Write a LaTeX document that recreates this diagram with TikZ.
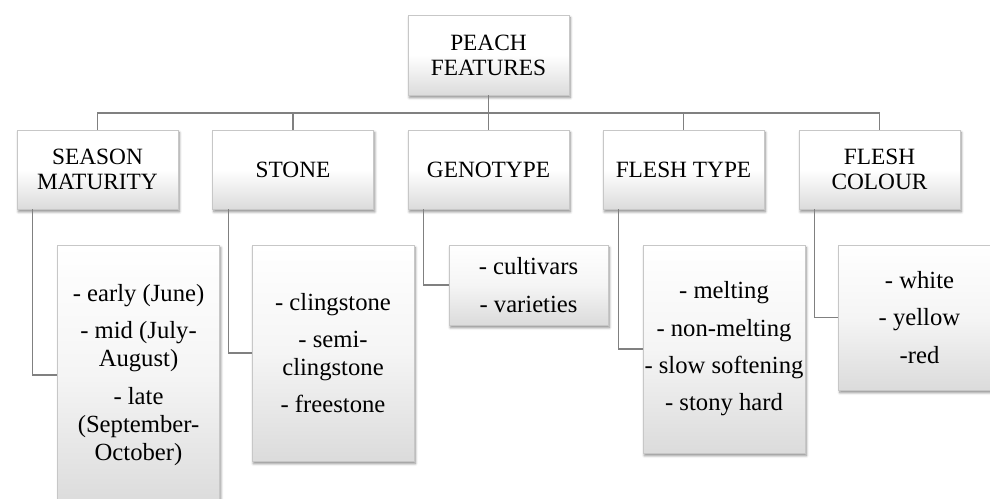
\documentclass[tikz,border=0pt]{standalone}
\usepackage{fontspec}
\setmainfont{Liberation Serif}
\usetikzlibrary{shadows.blur}
\tikzset{
  box/.style={draw=black!22, line width=0.4pt, top color=white, bottom color=black!14,
    blur shadow={shadow xshift=1pt, shadow yshift=-2pt, shadow blur steps=6, shadow opacity=45},
    inner sep=0pt, align=center, minimum width=120.75pt},
  head/.style={box, middle color=white, minimum height=59.5pt, font=\fontsize{17.5}{18.75}\selectfont},
  item/.style={box, middle color=black!4, minimum width=121.5pt, font=\fontsize{18.5}{21}\selectfont},
  link/.style={draw=black!50, line width=1pt}
}
\begin{document}
\begin{tikzpicture}[x=0.75pt,y=-0.75pt]
    \useasboundingbox (0,0) rectangle (990,499);
    % top
    \node[head, minimum height=60pt] (peach) at (488.5,55) {PEACH\\FEATURES};
    % level1
    \node[head] (season) at (97.5,169.5) {SEASON\\MATURITY};
    \node[head] (stone) at (293,169.5) {STONE};
    \node[head] (genotype) at (488.5,169.5) {GENOTYPE};
    \node[head] (fleshtype) at (683.5,169.5) {FLESH TYPE};
    \node[head] (colour) at (879.5,169.5) {FLESH\\COLOUR};
    % level2
    \node[item, minimum height=195pt] (seasonlist) at (138.5,375) {- early (June)\\[7pt]- mid (July-\\August)\\[7pt]- late\\(September-\\October)};
    \node[item, minimum height=162pt] (stonelist) at (333,353) {- clingstone\\[7pt]- semi-\\clingstone\\[7pt]- freestone};
    \node[item, minimum height=60pt, minimum width=119.25pt] (genolist) at (528.5,285) {- cultivars\\[7pt]- varieties};
    \node[item, minimum height=156pt] (fleshlist) at (724,349) {- melting\\[7pt]- non-melting\\[7pt]- slow softening\\[7pt]- stony hard};
    \node[item, minimum height=108.75pt] (colourlist) at (919.5,317.5) {- white\\[7pt]- yellow\\[7pt]-red};
    % links
    \coordinate (bus) at (488.5,113);
    \draw[link] (peach.south) -- (bus);
    \foreach \n in {season,stone,genotype,fleshtype,colour}
        \draw[link] (bus) -| (\n.north);
    \foreach \a/\b in {season/seasonlist,stone/stonelist,genotype/genolist,fleshtype/fleshlist,colour/colourlist}
        \draw[link] ([xshift=12pt]\a.south west) |- (\b.west);
\end{tikzpicture}
\end{document}
